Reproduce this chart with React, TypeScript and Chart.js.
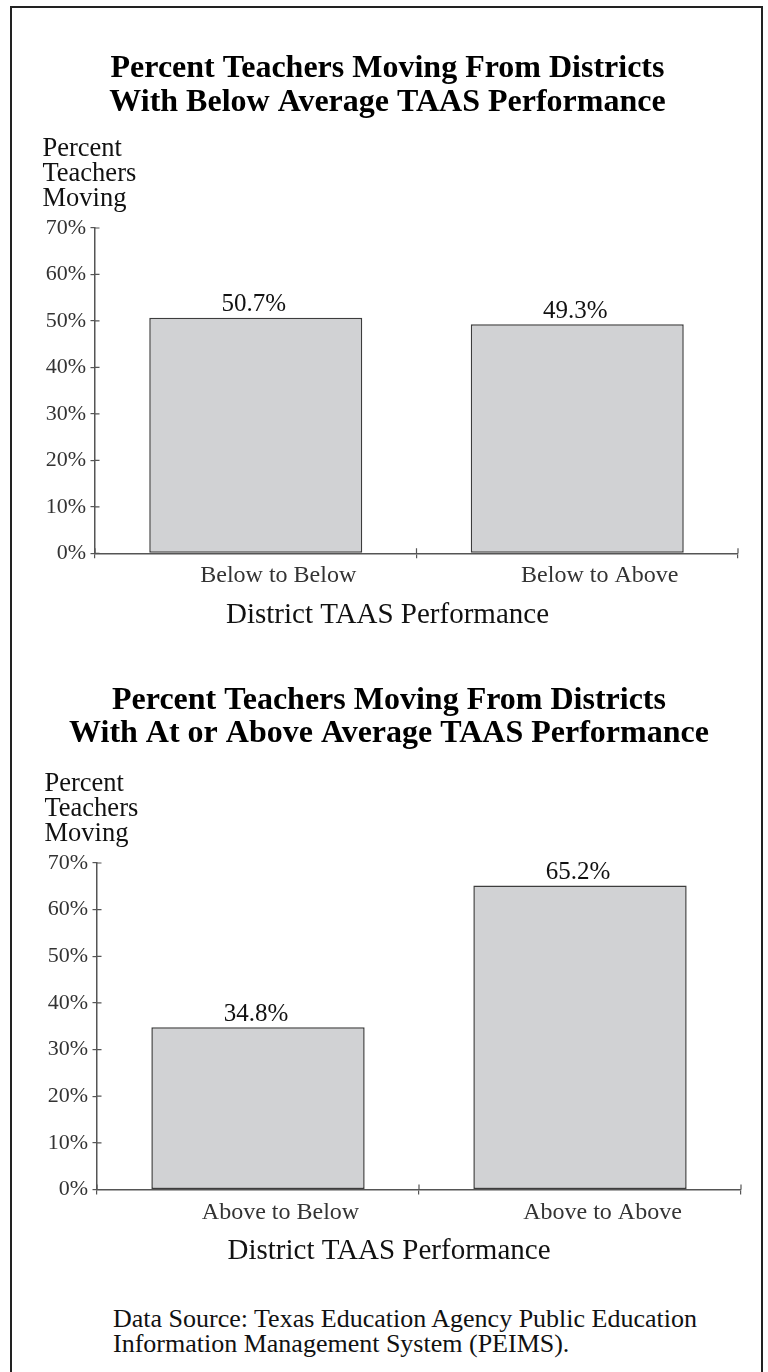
import React, { useEffect, useRef } from 'react';
import { Chart, registerables } from 'chart.js';

Chart.register(...registerables);

const FONT = "'Liberation Serif', 'Times New Roman', Times, serif";

// ---- data ----
const topTitle = ['Percent Teachers Moving From Districts', 'With Below Average TAAS Performance'];
const topCategories = ['Below to Below', 'Below to Above'];
const topValues = [50.7, 49.3];

const bottomTitle = ['Percent Teachers Moving From Districts', 'With At or Above Average TAAS Performance'];
const bottomCategories = ['Above to Below', 'Above to Above'];
const bottomValues = [34.8, 65.2];

const yAxisHeader = ['Percent', 'Teachers', 'Moving'];
const xAxisTitle = 'District TAAS Performance';
const yTickValues = [0, 10, 20, 30, 40, 50, 60, 70];
const sourceLines = [
  'Data Source: Texas Education Agency Public Education',
  'Information Management System (PEIMS).',
];

// ---- styles ----
const BAR_FILL = '#d1d2d4';
const BAR_EDGE = '#3d3d3d';
const AXIS = '#555555';
const CANVAS_LEFT = 37;
const RIGHT_PAD = 5;

type Frame = { left: number; top: number; right: number; bottom: number; titleBaseline: number };

const topFrame: Frame = { left: 95, top: 228, right: 738, bottom: 553.3, titleBaseline: 80 };
const bottomFrame: Frame = { left: 97, top: 863, right: 741, bottom: 1189.5, titleBaseline: 711.7 };

const yHeaderPlugin = {
  id: 'yHeader',
  afterDraw(chart: any) {
    const { ctx, chartArea } = chart;
    ctx.save();
    ctx.font = `26.5px ${FONT}`;
    ctx.fillStyle = '#111';
    ctx.textAlign = 'left';
    ctx.textBaseline = 'alphabetic';
    yAxisHeader.forEach((t, i) => {
      ctx.fillText(t, chartArea.left - 52.5, chartArea.top - 72 + i * 24.75);
    });
    ctx.restore();
  },
};

const innerTicksPlugin = {
  id: 'innerTicks',
  afterDatasetsDraw(chart: any) {
    const { ctx, chartArea, scales } = chart;
    const x = scales.x;
    const y = scales.y;
    ctx.save();
    ctx.strokeStyle = AXIS;
    ctx.lineWidth = 1.2;
    ctx.beginPath();
    y.ticks.forEach((_: any, i: number) => {
      const p = y.getPixelForTick(i);
      ctx.moveTo(chartArea.left, p);
      ctx.lineTo(chartArea.left + 4.5, p);
    });
    for (let i = 0; i <= x.ticks.length; i++) {
      const p = x.getPixelForValue(i - 0.5);
      ctx.moveTo(p, chartArea.bottom);
      ctx.lineTo(p, chartArea.bottom - 5);
    }
    ctx.stroke();
    ctx.restore();
  },
};

const valueLabelPlugin = {
  id: 'valueLabels',
  afterDatasetsDraw(chart: any) {
    const { ctx } = chart;
    const meta = chart.getDatasetMeta(0);
    const data = chart.data.datasets[0].data as number[];
    ctx.save();
    ctx.font = `25px ${FONT}`;
    ctx.fillStyle = '#111';
    ctx.textAlign = 'center';
    ctx.textBaseline = 'alphabetic';
    meta.data.forEach((bar: any, i: number) => {
      ctx.fillText(`${data[i].toFixed(1)}%`, bar.x - 2, bar.y - 6.5);
    });
    ctx.restore();
  },
};

function BarPanel({ title, categories, values, frame }: { title: string[]; categories: string[]; values: number[]; frame: Frame }) {
  const ref = useRef<HTMLCanvasElement>(null);
  const T = frame.top - 216;
  const H = Math.round(frame.bottom - T + 85);
  const W = frame.right - CANVAS_LEFT + RIGHT_PAD;

  useEffect(() => {
    if (!ref.current) return;
    const titleSize = 32;
    const titleLH = 1.04;
    const tLine = titleSize * titleLH;
    const tMid = frame.titleBaseline - 0.3375 * titleSize - T;
    const tPadTop = tMid - tLine / 2;
    const tPadBottom = frame.top - T - tPadTop - tLine * title.length;

    const catSize = 24;
    const catLH = 1.2;
    const xTickLen = 5;
    const xTickPad = 3.5;
    const xAxisH = xTickLen + catSize * catLH + 2 * xTickPad;
    const subSize = 29;
    const subLH = 1.2;
    const subPadTop = 3.5;
    const subPadBottom = H - (frame.bottom - T) - xAxisH - subPadTop - subSize * subLH;
    const yWidth = frame.left - CANVAS_LEFT;

    const chart = new Chart(ref.current, {
      type: 'bar',
      data: {
        labels: categories,
        datasets: [
          {
            data: values,
            backgroundColor: BAR_FILL,
            borderColor: BAR_EDGE,
            borderWidth: 1.5,
            borderSkipped: false,
            barPercentage: 0.6625,
            categoryPercentage: 1,
          },
        ],
      },
      options: {
        animation: false,
        responsive: true,
        maintainAspectRatio: false,
        devicePixelRatio: 1,
        layout: { padding: { top: 0, left: 0, right: RIGHT_PAD, bottom: 0 } },
        plugins: {
          legend: { display: false },
          tooltip: { enabled: false },
          title: {
            display: true,
            text: title,
            color: '#000',
            font: { family: FONT, size: titleSize, weight: 'bold', lineHeight: titleLH },
            padding: { top: tPadTop, bottom: tPadBottom },
          },
          subtitle: {
            display: true,
            position: 'bottom',
            text: xAxisTitle,
            color: '#111',
            font: { family: FONT, size: subSize, weight: 'normal', lineHeight: subLH },
            padding: { top: subPadTop, bottom: subPadBottom },
          },
        },
        scales: {
          x: {
            grid: { display: true, drawOnChartArea: false, drawTicks: true, tickLength: xTickLen, color: AXIS, lineWidth: 1.2, offset: true },
            border: { display: true, color: AXIS, width: 1.5 },
            ticks: {
              color: '#333',
              padding: xTickPad,
              labelOffset: 22.5,
              font: { family: FONT, size: catSize, lineHeight: catLH },
            },
          },
          y: {
            min: yTickValues[0],
            max: yTickValues[yTickValues.length - 1],
            afterFit: (s: any) => {
              s.width = yWidth;
            },
            grid: { display: true, drawOnChartArea: false, drawTicks: true, tickLength: 4.5, color: AXIS, lineWidth: 1.2 },
            border: { display: true, color: AXIS, width: 1.5 },
            ticks: {
              stepSize: yTickValues[1] - yTickValues[0],
              color: '#333',
              padding: 4.5,
              font: { family: FONT, size: 22, lineHeight: 1.2 },
              callback: (v: any) => `${v}%`,
            },
          },
        },
      },
      plugins: [yHeaderPlugin, innerTicksPlugin, valueLabelPlugin],
    } as any);
    return () => chart.destroy();
  }, []);

  return (
    <div style={{ position: 'absolute', left: CANVAS_LEFT, top: T, width: W, height: H }}>
      <canvas ref={ref} />
    </div>
  );
}

export default function App() {
  return (
    <div style={{ position: 'fixed', left: 0, top: 0, width: 768, height: 1372, overflow: 'hidden', background: '#fff' }}>
      <div
        style={{
          position: 'absolute',
          left: 10,
          top: 6,
          width: 753,
          height: 1400,
          boxSizing: 'border-box',
          border: '2px solid #222',
          borderBottom: 'none',
        }}
      />
      <BarPanel title={topTitle} categories={topCategories} values={topValues} frame={topFrame} />
      <BarPanel title={bottomTitle} categories={bottomCategories} values={bottomValues} frame={bottomFrame} />
      <div
        style={{
          position: 'absolute',
          left: 113,
          top: 1306,
          fontFamily: FONT,
          fontSize: 26,
          lineHeight: '25px',
          color: '#111',
          whiteSpace: 'nowrap',
        }}
      >
        {sourceLines.map((l) => (
          <div key={l}>{l}</div>
        ))}
      </div>
    </div>
  );
}
